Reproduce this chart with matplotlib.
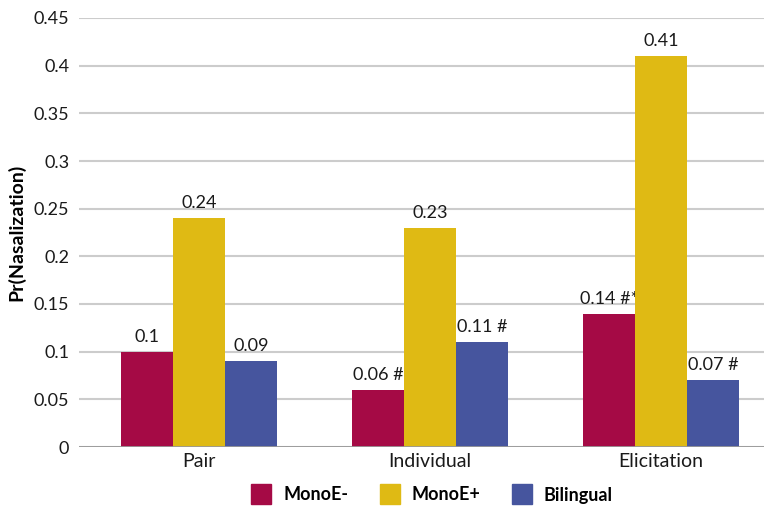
import matplotlib.pyplot as plt
from matplotlib.lines import Line2D
import numpy as np

plt.rcParams['font.family'] = ['Lato', 'DejaVu Sans']

categories = ['Pair', 'Individual', 'Elicitation']
groups = ['MonoE-', 'MonoE+', 'Bilingual']
mono_minus = [0.10, 0.06, 0.14]
mono_plus = [0.24, 0.23, 0.41]
bilingual = [0.09, 0.11, 0.07]
mono_minus_labels = ['0.1', '0.06 #', '0.14 #*']
mono_plus_labels = ['0.24', '0.23', '0.41']
bilingual_labels = ['0.09', '0.11 #', '0.07 #']
yticks = [0, 0.05, 0.1, 0.15, 0.2, 0.25, 0.3, 0.35, 0.4, 0.45]
ytick_labels = ['0', '0.05', '0.1', '0.15', '0.2', '0.25', '0.3', '0.35', '0.4', '0.45']

colors = ['#A50A45', '#DFBA14', '#46559E']

fig = plt.figure(figsize=(7.64, 5.07), dpi=100)
ax = fig.add_axes([79 / 764, 1 - 447 / 507, 1 - 79 / 764, (447 - 18) / 507])

x = np.arange(len(categories))
w = 0.225
series = [mono_minus, mono_plus, bilingual]
labels = [mono_minus_labels, mono_plus_labels, bilingual_labels]
for i, (vals, labs) in enumerate(zip(series, labels)):
    bars = ax.bar(x + (i - 1) * w, vals, w, color=colors[i], zorder=3)
    ax.bar_label(bars, labels=labs, padding=5, fontsize=13, color='#1a1a1a')

ax.set_ylim(0, 0.45)
ax.set_xlim(-0.519, 2.446)
ax.set_yticks(yticks)
ax.set_yticklabels(ytick_labels, fontsize=13)
ax.set_xticks(x)
ax.set_xticklabels(categories, fontsize=14)
ax.tick_params(axis='both', length=0, colors='#1a1a1a')
ax.tick_params(axis='y', pad=7)
ax.tick_params(axis='x', pad=4)
ax.grid(axis='y', color='#cccccc', linewidth=1.5, zorder=0)
ax.axhline(0, color='#999999', linewidth=2, zorder=4)
for s in ax.spines.values():
    s.set_visible(False)
ax.set_ylabel('Pr(Nasalization)', fontsize=14, fontweight='bold', labelpad=6)

handles = [Line2D([], [], marker='s', linestyle='none', markersize=15,
                  markerfacecolor=c, markeredgecolor=c) for c in colors]
fig.legend(handles, groups, loc='center', bbox_to_anchor=(0.56, 1 - 495 / 507),
           ncol=3, frameon=False, prop={'weight': 'bold', 'size': 13},
           handletextpad=0.2, columnspacing=1.3)

fig.savefig('out.png', dpi=100)
